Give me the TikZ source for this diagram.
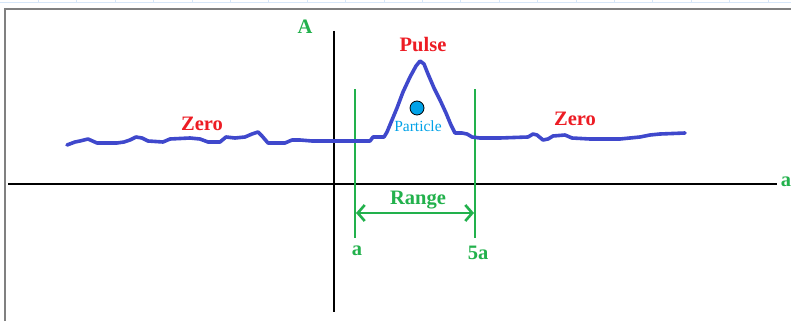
\documentclass[tikz,border=0pt]{standalone}
\usepackage{fontspec}
\setmainfont{Liberation Serif}
\usetikzlibrary{arrows.meta}
\definecolor{pgreen}{HTML}{22B14C}
\definecolor{pred}{HTML}{ED1C24}
\definecolor{pblue}{HTML}{3F48CC}
\definecolor{pcyan}{HTML}{00A2E8}
\definecolor{ruler}{HTML}{D6E6F8}
\tikzset{
  lbl/.style={font=\fontsize{20.5}{20.5}\selectfont\bfseries, inner sep=0pt},
  greenlbl/.style={lbl, text=pgreen},
  redlbl/.style={lbl, text=pred},
  axis/.style={black, line width=2.6pt},
  marker/.style={pgreen, line width=2.6pt},
  wave/.style={pblue, line width=3.6pt, line join=round, line cap=round},
}
\begin{document}
\begin{tikzpicture}[x=1pt,y=-1pt]
\useasboundingbox (0,0) rectangle (791,321);
\fill[white] (0,0) rectangle (791,321);
% ruler strip
\draw[ruler, line width=1pt] (0,3) -- (791,3);
\foreach \i in {1,...,20} \draw[ruler, line width=1pt] ({38.4*\i},0) -- ({38.4*\i},3);
% frame
\draw[gray, line width=2pt] (5,321) -- (5,9) -- (791,9);
% axes
\coordinate (xl) at (8,184);
\coordinate (xr) at (777,184);
\coordinate (yt) at (334,31);
\coordinate (yb) at (334,312);
\draw[axis] (xl) -- (xr);
\draw[axis] (yt) -- (yb);
\node[greenlbl] (alab) at (786,182) {a};
\node[greenlbl] (Alab) at (305,27) {A};
% range markers
\coordinate (m1t) at (355,89);
\coordinate (m1b) at (355,238);
\coordinate (m2t) at (475,89);
\coordinate (m2b) at (475,238);
\draw[marker] (m1t) -- (m1b);
\draw[marker] (m2t) -- (m2b);
\coordinate (r1) at (356,213);
\coordinate (r2) at (474,213);
\draw[marker, {Straight Barb[length=7pt,width=16pt,line width=2.6pt]}-{Straight Barb[length=7pt,width=16pt,line width=2.6pt]}] (r1) -- (r2);
\node[greenlbl] (range) at (418,200) {Range};
\node[greenlbl] (la) at (357,251) {a};
\node[greenlbl] (l5a) at (478,253) {5a};
% wave
\draw[wave] (67,145) -- (75,142) -- (80,141) -- (88,139) -- (97,143) -- (117,143) -- (124,142) -- (130,140) -- (136,137) -- (142,138) -- (148,141) -- (163,142) -- (170,139) -- (190,138) -- (200,139) -- (208,142) -- (220,142) -- (226,137) -- (235,138) -- (245,137) -- (252,134) -- (258,132) -- (262,136) -- (268,143) -- (285,143) -- (292,140) -- (300,140) -- (312,141) -- (330,141) -- (370,141) -- (373,137) -- (384,137) -- (387,132) -- (392,120) -- (397,108) -- (403,92) -- (410,77) -- (416,66) -- (420,61) -- (424,64) -- (428,74) -- (434,88) -- (440,100) -- (446,113) -- (451,125) -- (455,133) -- (462,133) -- (467,134) -- (472,137) -- (480,138) -- (500,138) -- (528,137) -- (533,134) -- (537,135) -- (543,140) -- (548,139) -- (553,136) -- (565,135) -- (572,138) -- (590,139) -- (620,139) -- (640,137) -- (650,135) -- (660,134) -- (685,133);
% particle
\node[circle, fill=pcyan, draw=black, line width=0.8pt, minimum size=14pt, inner sep=0pt] (dot) at (417,108) {};
\node[text=pcyan, font=\fontsize{15.5}{15.5}\selectfont, inner sep=0pt] (plabel) at (418,126) {Particle};
% labels
\node[redlbl] (pulse) at (423,45) {Pulse};
\node[redlbl] (zl) at (202,124) {Zero};
\node[redlbl] (zr) at (575,119) {Zero};
\end{tikzpicture}
\end{document}
